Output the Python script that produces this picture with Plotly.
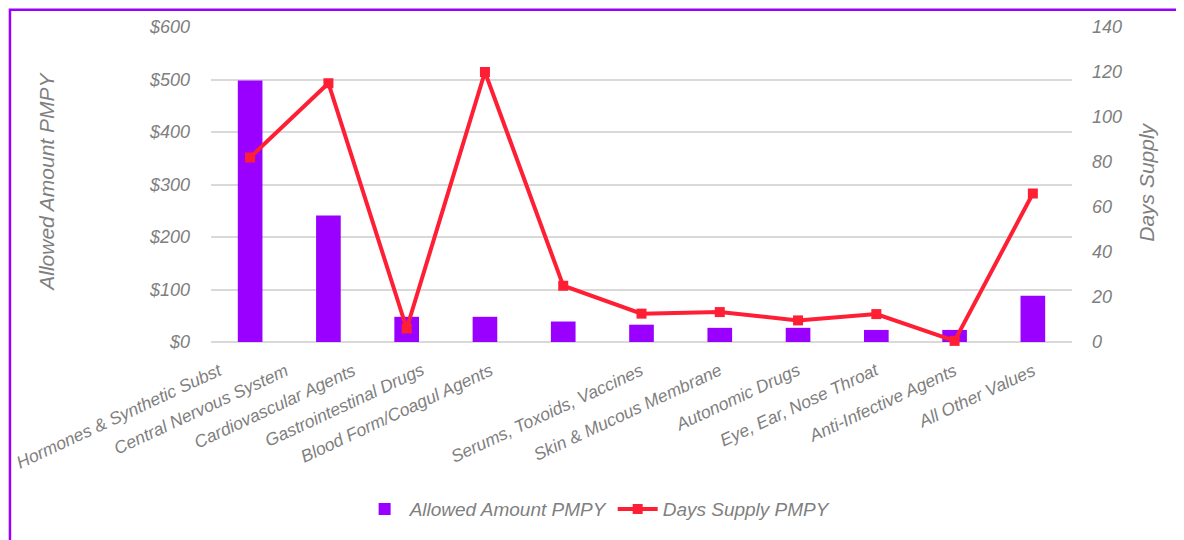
import plotly.graph_objects as go
from plotly.subplots import make_subplots

categories = [
    "Hormones & Synthetic Subst", "Central Nervous System", "Cardiovascular Agents",
    "Gastrointestinal Drugs", "Blood Form/Coagul Agents", "Serums, Toxoids, Vaccines",
    "Skin & Mucous Membrane", "Autonomic Drugs", "Eye, Ear, Nose Throat",
    "Anti-Infective Agents", "All Other Values",
]
allowed_pmpy = [498, 241, 48, 48, 39, 33, 27, 27, 23, 23, 88]
days_supply_pmpy = [82, 115, 6, 120, 25, 12.6, 13.3, 9.6, 12.4, 0.5, 66]

left_ticks = [0, 100, 200, 300, 400, 500, 600]
right_ticks = [0, 20, 40, 60, 80, 100, 120, 140]

# horizontal nudges of the rotated category labels (px), as in the reference
label_shift = [-22, -34, -45, -55, -64, 8, 8, 8, 8, 8, 8]

GRAY = "#7F7F7F"
FONT = "Liberation Sans"
FS = 18

fig = make_subplots(specs=[[{"secondary_y": True}]])
fig.add_trace(go.Bar(
    x=categories, y=allowed_pmpy, name="Allowed Amount PMPY",
    marker=dict(color="#9900FF", line=dict(width=0)),
), secondary_y=False)
fig.add_trace(go.Scatter(
    x=categories, y=days_supply_pmpy, name="Days Supply PMPY", mode="lines+markers",
    line=dict(color="#FF1F35", width=4),
    marker=dict(symbol="square", size=10, color="#FF1F35"),
    cliponaxis=False,
), secondary_y=True)

tickfont = dict(family=FONT, size=FS, color=GRAY, style="italic")

fig.update_layout(
    width=1184, height=540,
    margin=dict(l=203, r=120, t=19, b=206, autoexpand=False),
    paper_bgcolor="white", plot_bgcolor="white",
    bargap=0.685,
    showlegend=True,
    legend=dict(
        orientation="h", xref="container", yref="container",
        x=0.498, xanchor="center", y=0.072, yanchor="middle",
        font=dict(family=FONT, size=19, color=GRAY, style="italic"),
        itemwidth=40, tracegroupgap=0,
    ),
    xaxis=dict(domain=[0, 1], showticklabels=False, showgrid=False, ticks="",
               showline=False, zeroline=False, automargin=False, autorange=False,
               range=[-0.5, len(categories) - 0.5]),
    yaxis=dict(range=[0, 600], tickvals=left_ticks, autorange=False,
               ticktext=[f"${v}" for v in left_ticks], automargin=False,
               showgrid=True, gridcolor="#D9D9D9", gridwidth=1.5,
               zeroline=True, zerolinecolor="#D9D9D9", zerolinewidth=1.5,
               showline=False, ticks="", tickfont=tickfont, ticklabelstandoff=20),
    yaxis2=dict(range=[0, 140], tickvals=right_ticks, showgrid=False, autorange=False,
                zeroline=False, showline=False, ticks="", tickfont=tickfont,
                ticklabelstandoff=19, automargin=False),
)

annotations = [
    dict(text="Allowed Amount PMPY", textangle=-90, xref="paper", yref="paper",
         x=-0.1905, y=0.5086, xanchor="center", yanchor="middle", showarrow=False,
         font=dict(family=FONT, size=21, color=GRAY, style="italic")),
    dict(text="Days Supply", textangle=-90, xref="paper", yref="paper",
         x=1.0871, y=0.5086, xanchor="center", yanchor="middle", showarrow=False,
         font=dict(family=FONT, size=21, color=GRAY, style="italic")),
]
for cat, dx in zip(categories, label_shift):
    annotations.append(dict(
        text=cat, textangle=-25, xref="x", yref="paper", x=cat, y=0,
        xanchor="right", yanchor="top", xshift=dx, yshift=-15, showarrow=False,
        font=dict(family=FONT, size=17.5, color=GRAY, style="italic"),
    ))
fig.update_layout(annotations=annotations)

# purple frame (left/top edges visible, right/bottom run off the picture)
fig.add_shape(type="rect", xref="paper", yref="paper",
              x0=-0.2335, x1=1.16, y0=-0.72, y1=1.055,
              line=dict(color="#9900FF", width=2.5), fillcolor="rgba(0,0,0,0)",
              layer="above")

fig.write_html("out.html")
